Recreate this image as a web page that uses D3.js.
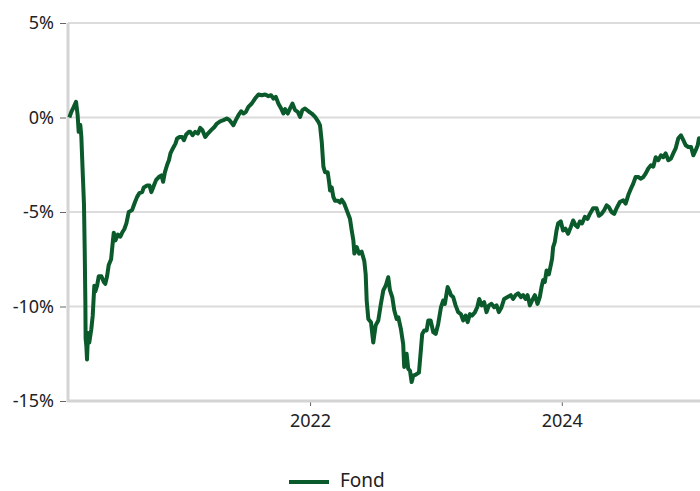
<!DOCTYPE html>
<html>
<head>
<meta charset="utf-8">
<script src="https://cdn.jsdelivr.net/npm/d3@7"></script>
<style>
  body { margin: 0; background: #fff; }
  svg { display: block; }
  svg text { font-family: "Noto Sans", "DejaVu Sans", sans-serif; fill: #222; }
  .tick text { font-size: 18px; }
  .legend text { font-size: 19px; }
</style>
</head>
<body>
<svg width="700" height="491"></svg>
<script>
// time as decimal years, value in %
const years = [
  2020.090, 2020.106, 2020.125, 2020.143, 2020.156, 2020.164, 2020.177, 2020.185, 2020.196, 2020.206,
  2020.212, 2020.217, 2020.219, 2020.225, 2020.230, 2020.238, 2020.248, 2020.264, 2020.275, 2020.288,
  2020.296, 2020.310, 2020.323, 2020.344, 2020.363, 2020.375, 2020.389, 2020.402, 2020.421, 2020.434,
  2020.442, 2020.455, 2020.474, 2020.494, 2020.508, 2020.526, 2020.542, 2020.561, 2020.587, 2020.609,
  2020.627, 2020.645, 2020.667, 2020.680, 2020.706, 2020.725, 2020.740, 2020.760, 2020.778, 2020.799,
  2020.820, 2020.833, 2020.847, 2020.865, 2020.879, 2020.891, 2020.910, 2020.931, 2020.944, 2020.963,
  2020.984, 2020.998, 2021.016, 2021.037, 2021.048, 2021.066, 2021.087, 2021.109, 2021.127, 2021.145,
  2021.167, 2021.188, 2021.214, 2021.240, 2021.260, 2021.286, 2021.312, 2021.339, 2021.360, 2021.391,
  2021.410, 2021.431, 2021.452, 2021.471, 2021.490, 2021.510, 2021.537, 2021.563, 2021.590, 2021.617,
  2021.643, 2021.669, 2021.690, 2021.709, 2021.728, 2021.748, 2021.770, 2021.788, 2021.802, 2021.823,
  2021.841, 2021.860, 2021.881, 2021.902, 2021.921, 2021.939, 2021.960, 2021.987, 2022.013, 2022.040,
  2022.066, 2022.079, 2022.093, 2022.106, 2022.119, 2022.140, 2022.151, 2022.159, 2022.172, 2022.185,
  2022.198, 2022.220, 2022.238, 2022.252, 2022.272, 2022.291, 2022.317, 2022.331, 2022.344, 2022.352,
  2022.371, 2022.389, 2022.410, 2022.431, 2022.442, 2022.450, 2022.463, 2022.484, 2022.502, 2022.521,
  2022.542, 2022.563, 2022.582, 2022.601, 2022.621, 2022.635, 2022.653, 2022.669, 2022.688, 2022.701,
  2022.722, 2022.740, 2022.748, 2022.767, 2022.780, 2022.794, 2022.807, 2022.820, 2022.841, 2022.865,
  2022.881, 2022.891, 2022.907, 2022.926, 2022.939, 2022.958, 2022.979, 2022.998, 2023.018, 2023.040,
  2023.058, 2023.071, 2023.093, 2023.111, 2023.119, 2023.137, 2023.156, 2023.177, 2023.198, 2023.217,
  2023.236, 2023.252, 2023.270, 2023.288, 2023.310, 2023.328, 2023.344, 2023.363, 2023.383, 2023.402,
  2023.421, 2023.442, 2023.463, 2023.482, 2023.500, 2023.521, 2023.542, 2023.569, 2023.595, 2023.613,
  2023.633, 2023.653, 2023.675, 2023.693, 2023.712, 2023.728, 2023.746, 2023.764, 2023.786, 2023.807,
  2023.825, 2023.839, 2023.852, 2023.865, 2023.879, 2023.897, 2023.913, 2023.923, 2023.931, 2023.944,
  2023.958, 2023.971, 2023.992, 2024.010, 2024.029, 2024.050, 2024.071, 2024.090, 2024.109, 2024.125,
  2024.143, 2024.161, 2024.183, 2024.204, 2024.222, 2024.248, 2024.275, 2024.294, 2024.315, 2024.336,
  2024.355, 2024.373, 2024.394, 2024.415, 2024.434, 2024.460, 2024.487, 2024.506, 2024.526, 2024.548,
  2024.566, 2024.585, 2024.606, 2024.627, 2024.645, 2024.664, 2024.685, 2024.706, 2024.725, 2024.744,
  2024.764, 2024.786, 2024.804, 2024.823, 2024.844, 2024.865, 2024.883, 2024.902, 2024.923, 2024.944,
  2024.963, 2024.982, 2025.002, 2025.024, 2025.042, 2025.061, 2025.077, 2025.087, 2025.095
];
const values = [
  0.0, 0.3, 0.56, 0.83, 0.1, -0.76, -0.4, -1.0, -2.9, -4.6,
  -7.1, -9.8, -11.7, -12.1, -12.8, -11.4, -11.9, -11.2, -10.5, -8.9,
  -9.2, -8.9, -8.4, -8.4, -8.7, -8.8, -8.4, -7.8, -7.5, -6.6,
  -6.1, -6.5, -6.2, -6.3, -6.1, -5.9, -5.6, -5.0, -4.9, -4.5,
  -4.2, -4.0, -3.95, -3.7, -3.6, -3.6, -3.95, -3.6, -3.3, -3.15,
  -3.06, -3.4, -2.9, -2.5, -2.26, -1.9, -1.64, -1.38, -1.11, -1.03,
  -1.03, -1.2, -0.9, -0.76, -0.76, -0.94, -0.76, -0.85, -0.55, -0.67,
  -1.03, -0.85, -0.67, -0.5, -0.32, -0.2, -0.14, -0.05, -0.14, -0.41,
  -0.14, 0.12, 0.33, 0.21, 0.3, 0.56, 0.74, 1.0, 1.22, 1.18,
  1.22, 1.13, 1.18, 1.0, 1.09, 0.74, 0.48, 0.21, 0.44, 0.21,
  0.48, 0.74, 0.39, 0.3, 0.03, 0.39, 0.48, 0.33, 0.21, 0.03,
  -0.23, -0.41, -1.3, -2.6, -2.9, -2.9, -3.4, -3.86, -3.7, -4.2,
  -4.4, -4.4, -4.5, -4.35, -4.56, -4.9, -5.36, -5.98, -6.5, -7.2,
  -6.86, -7.2, -7.1, -7.6, -8.3, -9.7, -10.66, -10.83, -11.9, -11.0,
  -10.74, -9.85, -9.15, -8.9, -8.45, -9.15, -9.5, -10.2, -10.66, -10.57,
  -11.2, -12.0, -13.2, -12.5, -13.3, -13.4, -14.0, -13.66, -13.6, -13.5,
  -12.25, -11.45, -11.27, -11.27, -10.74, -10.74, -11.36, -11.45, -10.92, -10.04,
  -9.68, -9.86, -8.97, -9.24, -9.4, -9.5, -9.94, -10.3, -10.4, -10.74,
  -10.48, -10.83, -10.4, -10.48, -10.3, -10.04, -9.6, -9.94, -9.77, -10.3,
  -9.94, -9.86, -10.04, -9.94, -10.3, -10.04, -9.6, -9.5, -9.4, -9.6,
  -9.4, -9.3, -9.5, -9.4, -9.6, -9.4, -9.94, -9.68, -9.4, -9.86,
  -9.5, -8.97, -8.6, -8.7, -8.1, -8.3, -7.8, -7.47, -6.86, -6.6,
  -5.98, -5.6, -5.5, -5.98, -5.88, -6.15, -5.8, -5.45, -5.7, -5.8,
  -5.5, -5.6, -5.25, -5.36, -5.1, -4.8, -4.8, -5.2, -5.1, -4.9,
  -4.65, -4.74, -5.0, -5.1, -4.8, -4.47, -4.38, -4.56, -4.12, -3.76,
  -3.5, -3.15, -3.15, -3.24, -3.15, -2.97, -2.7, -2.53, -2.6, -2.1,
  -2.26, -2.0, -2.1, -1.9, -2.26, -2.17, -1.9, -1.64, -1.1, -0.94,
  -1.2, -1.47, -1.56, -1.56, -2.0, -1.73, -1.47, -1.1, -1.1
];
const yTicks = [5, 0, -5, -10, -15];
const xTickYears = [2022, 2024];
const seriesName = "Fond";

const svg = d3.select("svg");

//* decimal year -> Date
function toDate(t) {
	const y = Math.floor(t);
	const a = new Date(y, 0, 1), b = new Date(y + 1, 0, 1);
	return new Date(+a + (t - y) * (b - a));
}

const data = years.map((t, i) => ({ date: toDate(t), value: values[i] }));

//* scales
const x = d3.scaleTime().domain([toDate(2020.0794), toDate(2025.0952)]).range([68, 700]);
const y = d3.scaleLinear().domain([-15, 5]).range([401, 23]);

//* grid
svg.append("g")
	.selectAll("line")
	.data(yTicks.filter((d) => d > -15))
	.enter()
	.append("line")
	.attr("x1", 68)
	.attr("x2", 700)
	.attr("y1", (d) => y(d))
	.attr("y2", (d) => y(d))
	.style("stroke", "#dcdcdc")
	.style("stroke-width", 2);

//* y axis
const yAxis = svg.append("g")
	.attr("transform", "translate(66,0)")
	.call(d3.axisLeft(y).tickValues(yTicks).tickSize(6).tickPadding(6).tickFormat((d) => d + "%"));
yAxis.select(".domain").remove();
yAxis.selectAll(".tick line").style("stroke", "#666");

//* x axis
const xAxis = svg.append("g")
	.attr("transform", "translate(0,402)")
	.call(d3.axisBottom(x).tickValues(xTickYears.map((d) => new Date(d, 0, 1))).tickSize(4).tickPadding(8).tickFormat(d3.timeFormat("%Y")));
xAxis.select(".domain").remove();
xAxis.selectAll(".tick line").style("stroke", "#666");

//* axis lines
svg.append("line")
	.attr("x1", 68).attr("x2", 68).attr("y1", 23).attr("y2", 402)
	.style("stroke", "#d4d4d4").style("stroke-width", 3);
svg.append("line")
	.attr("x1", 67).attr("x2", 700).attr("y1", y(-15)).attr("y2", y(-15))
	.style("stroke", "#d4d4d4").style("stroke-width", 3);

//* line
const lineGenerator = d3.line()
	.x((d) => x(d.date))
	.y((d) => y(d.value));
svg.append("path")
	.datum(data)
	.attr("d", lineGenerator)
	.style("fill", "none")
	.style("stroke", "#0b5a2c")
	.style("stroke-width", 4)
	.style("stroke-linejoin", "round");

//* legend
const legend = svg.append("g").attr("class", "legend");
legend.append("line")
	.attr("x1", 289).attr("x2", 329).attr("y1", 482).attr("y2", 482)
	.style("stroke", "#0b5a2c").style("stroke-width", 4);
legend.append("text")
	.attr("x", 340).attr("y", 486.5)
	.text(seriesName);
</script>
</body>
</html>
